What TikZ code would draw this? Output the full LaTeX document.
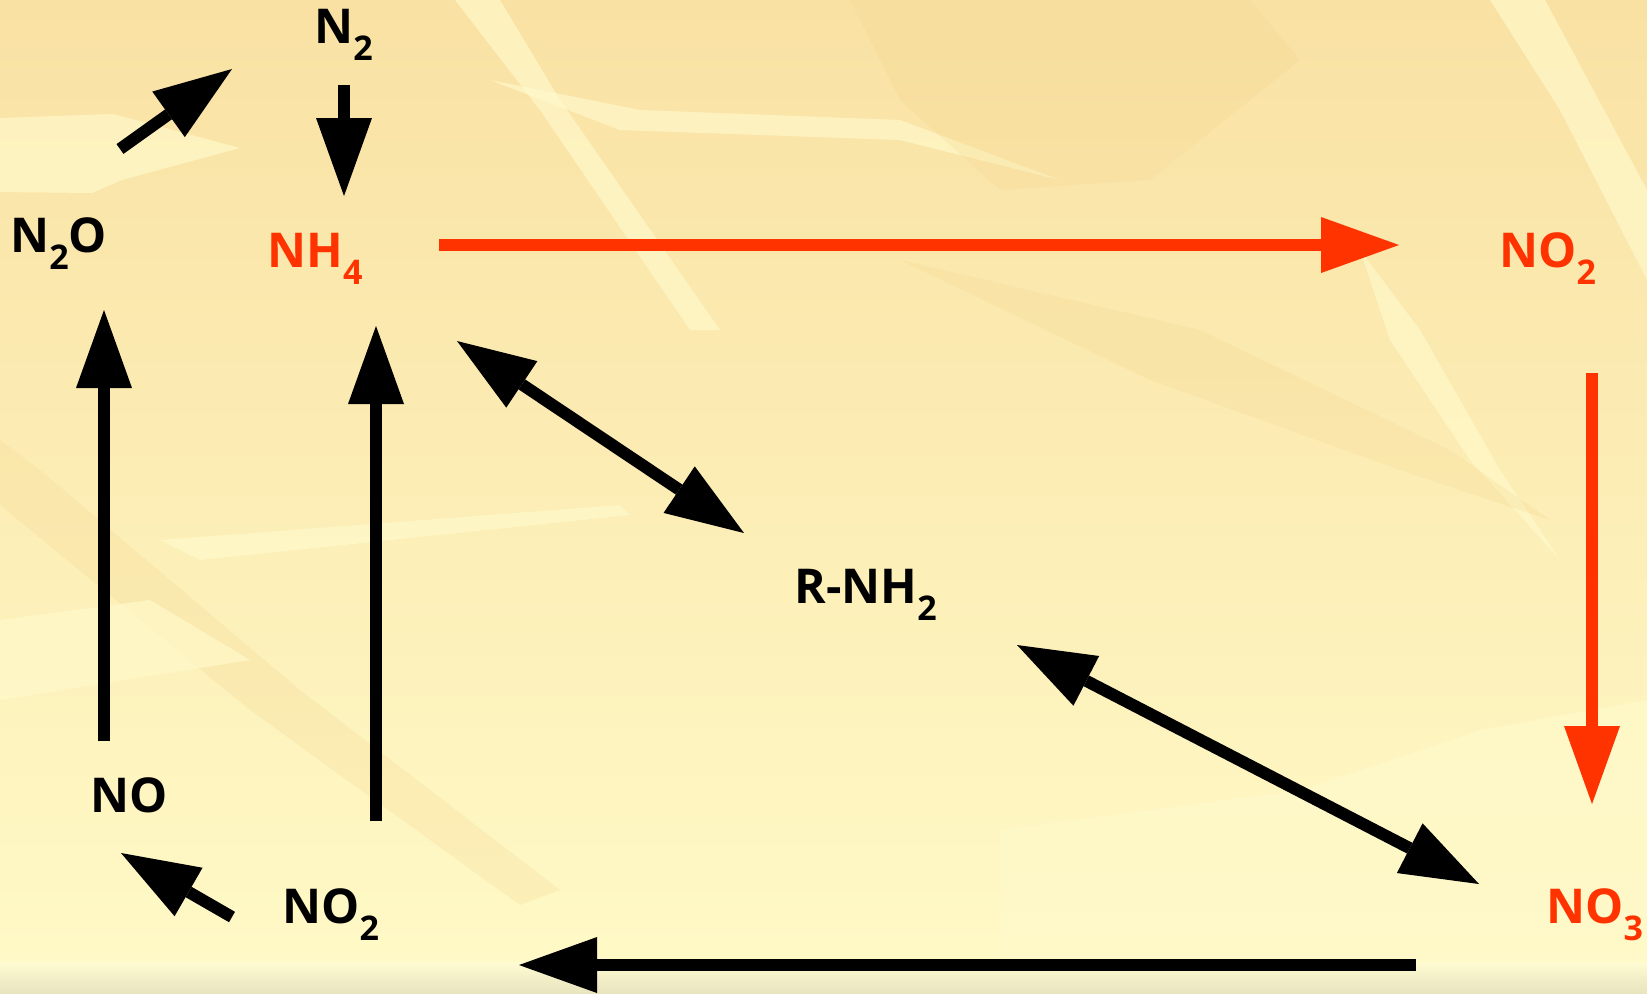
\documentclass[tikz,border=0pt]{standalone}
\usepackage{fontspec}
\setmainfont{Open Sans}
\usetikzlibrary{arrows.meta}
\definecolor{chred}{HTML}{FF3300}
\definecolor{bgtop}{HTML}{F9E1A3}
\definecolor{bgmid}{HTML}{FCEEB8}
\definecolor{bgbot}{HTML}{FFFAC8}
\definecolor{lite}{HTML}{FFF9CA}
\definecolor{darkbg}{HTML}{F5D690}
\definecolor{stripT}{HTML}{FFFBD2}
\definecolor{stripB}{HTML}{E7E4BF}
\newcommand{\chsub}[1]{\raisebox{-8.75pt}{\fontsize{17pt}{17pt}\selectfont #1}}
\tikzset{
  lbl/.style={anchor=base west, inner sep=0pt, font=\bfseries\fontsize{24pt}{24pt}\selectfont},
  redlbl/.style={lbl, text=chred},
  tipx/.tip={Triangle[length=39pt,width=28pt,line width=0pt]},
  arr/.style={line width=6pt, -tipx},
  darr/.style={line width=6pt, tipx-tipx},
  litebg/.style={fill=lite, draw=none, opacity=0.7},
  darkbgs/.style={fill=darkbg, draw=none, opacity=0.25},
}
\begin{document}
\begin{tikzpicture}[x=0.5pt,y=-0.5pt]
\useasboundingbox (0,0) rectangle (1647,993);
% background
\shade[top color=bgtop, middle color=bgmid, bottom color=bgbot] (0,0) rectangle (1647,993);
\fill[litebg] (0,118) -- (113,114) -- (240,148) -- (122,180) -- (92,193) -- (0,192) -- cycle;
\fill[litebg] (455,0) -- (500,0) -- (560,100) -- (720,330) -- (690,330) -- (540,110) -- cycle;
\fill[litebg] (490,80) -- (640,110) -- (900,120) -- (1060,180) -- (900,140) -- (620,130) -- cycle;
\fill[litebg] (1490,0) -- (1545,0) -- (1647,190) -- (1647,280) -- (1560,110) -- cycle;
\fill[litebg] (1360,250) -- (1420,330) -- (1500,470) -- (1560,560) -- (1470,460) -- (1390,340) -- cycle;
\fill[darkbgs] (0,440) -- (40,470) -- (300,690) -- (560,890) -- (520,905) -- (250,710) -- (0,505) -- cycle;
\fill[darkbgs] (850,0) -- (1250,0) -- (1300,60) -- (1150,180) -- (1000,190) -- (900,100) -- cycle;
\fill[darkbgs] (900,260) -- (1200,330) -- (1450,450) -- (1550,520) -- (1400,470) -- (1150,380) -- cycle;
\fill[litebg] (160,540) -- (620,505) -- (630,515) -- (200,560) -- cycle;
\fill[litebg] (1000,830) -- (1300,790) -- (1480,730) -- (1647,700) -- (1647,960) -- (1000,960) -- cycle;
\fill[litebg] (0,620) -- (150,600) -- (250,660) -- (0,700) -- cycle;
\shade[top color=stripT, bottom color=stripB] (0,962) rectangle (1647,993);

% labels
\node[lbl] (n2) at (314,43) {N\chsub{2}};
\node[lbl] (n2o) at (10,252) {N\chsub{2}O};
\node[redlbl] (nh4) at (267,267) {NH\chsub{4}};
\node[redlbl] (no2r) at (1499,267) {NO\chsub{2}};
\node[lbl] (rnh2) at (794,603) {R-NH\chsub{2}};
\node[lbl] (no) at (90,812) {NO};
\node[lbl] (no2b) at (282,923) {NO\chsub{2}};
\node[redlbl] (no3) at (1546,923) {NO\chsub{3}};

% connector end points
\coordinate (a1s) at (344,85);   \coordinate (a1e) at (344,196);
\coordinate (a2s) at (120,149);  \coordinate (a2e) at (232,69);
\coordinate (a3s) at (439,245);  \coordinate (a3e) at (1399,245);
\coordinate (a4s) at (1592,373); \coordinate (a4e) at (1592,804);
\coordinate (a5s) at (457,341);  \coordinate (a5e) at (744,533);
\coordinate (a6s) at (1017,645); \coordinate (a6e) at (1479,884);
\coordinate (a7s) at (1416,965); \coordinate (a7e) at (519,965);
\coordinate (a8s) at (232,917);  \coordinate (a8e) at (121,853);
\coordinate (a9s) at (104,741);  \coordinate (a9e) at (104,310);
\coordinate (a10s) at (376,821); \coordinate (a10e) at (376,326);

% connectors
\draw[arr] (a1s) -- (a1e);
\draw[arr] (a2s) -- (a2e);
\draw[arr, draw=chred, fill=chred] (a3s) -- (a3e);
\draw[arr, draw=chred, fill=chred] (a4s) -- (a4e);
\draw[darr] (a5s) -- (a5e);
\draw[darr] (a6s) -- (a6e);
\draw[arr] (a7s) -- (a7e);
\draw[arr] (a8s) -- (a8e);
\draw[arr] (a9s) -- (a9e);
\draw[arr] (a10s) -- (a10e);
\end{tikzpicture}
\end{document}
